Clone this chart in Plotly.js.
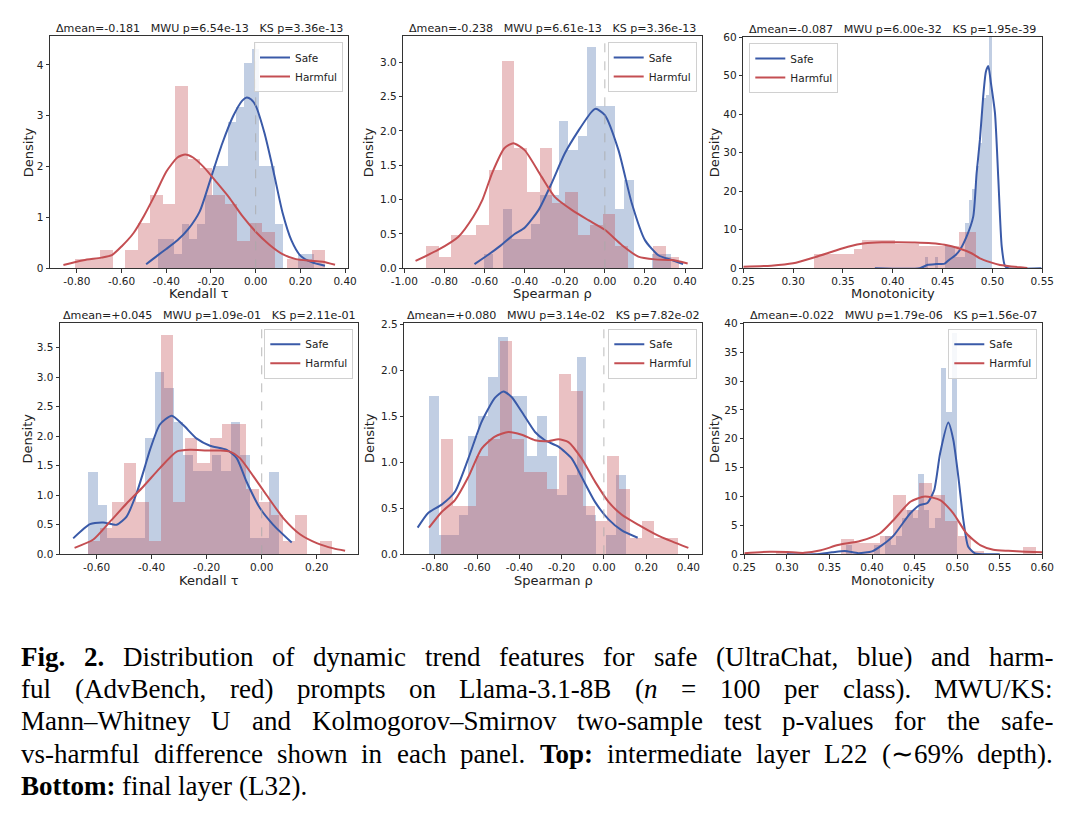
<!DOCTYPE html>
<html><head><meta charset="utf-8">
<script src="https://cdn.plot.ly/plotly-3.0.1.min.js"></script>
<style>body{margin:0;background:#fff}</style>
</head><body><div id="chart" style="width:1072px;height:819px"></div>
<script>
// ================= DATA =================
const seriesNames = ['Safe', 'Harmful'];
const xTitles = ['Kendall τ', 'Spearman ρ', 'Monotonicity', 'Kendall τ', 'Spearman ρ', 'Monotonicity'];
const yTitle = 'Density';
const panelStats = [
  'Δmean=-0.181   MWU p=6.54e-13   KS p=3.36e-13',
  'Δmean=-0.238   MWU p=6.61e-13   KS p=3.36e-13',
  'Δmean=-0.087   MWU p=6.00e-32   KS p=1.95e-39',
  'Δmean=+0.045   MWU p=1.09e-01   KS p=2.11e-01',
  'Δmean=+0.080   MWU p=3.14e-02   KS p=7.82e-02',
  'Δmean=-0.022   MWU p=1.79e-06   KS p=1.56e-07'
];

// ---- Panel 1: L22 Kendall tau ----
const p1SafeBinStart = -0.435, p1SafeBinWidth = 0.0347;
const p1SafeDensity = [0.58,0.58,0.29,0.87,0.58,0.87,1.44,2.02,2.02,2.88,3.17,4.03,4.32,2.02,2.02,0.87,0,0,0.29,0.29];
const p1HarmBinStart = -0.806, p1HarmBinWidth = 0.0557;
const p1HarmDensity = [0.18,0.18,0.36,0,0.36,0.90,1.44,1.26,3.59,2.15,1.97,1.44,1.26,0.54,0.90,0.72,0,0.18,0.18,0.36];
const p1SafeKdeX = [-0.49,-0.44,-0.40,-0.35,-0.30,-0.25,-0.20,-0.15,-0.10,-0.06,-0.04,-0.02,0.0,0.04,0.08,0.12,0.16,0.20,0.25,0.31];
const p1SafeKdeY = [0.08,0.25,0.38,0.55,0.78,1.12,1.78,2.45,3.00,3.30,3.36,3.32,3.20,2.65,1.90,1.10,0.55,0.25,0.12,0.05];
const p1HarmKdeX = [-0.86,-0.77,-0.69,-0.643,-0.60,-0.547,-0.50,-0.45,-0.40,-0.35,-0.315,-0.28,-0.23,-0.18,-0.12,-0.06,0.0,0.06,0.12,0.18,0.24,0.30,0.355];
const p1HarmKdeY = [0.065,0.16,0.21,0.26,0.43,0.69,1.03,1.45,1.90,2.18,2.24,2.18,1.98,1.72,1.40,1.03,0.72,0.47,0.28,0.18,0.15,0.13,0.07];

// ---- Panel 2: L22 Spearman rho ----
const p2SafeBinStart = -0.602, p2SafeBinWidth = 0.0466;
const p2SafeDensity = [0.21,0,0.86,0.43,0.43,0.64,1.07,1.07,2.15,1.72,1.93,3.22,2.36,2.36,0.86,1.29,0,0,0.21,0.21];
const p2HarmBinStart = -0.892, p2HarmBinWidth = 0.063;
const p2HarmDensity = [0.32,0.16,0.48,0.48,0.63,1.43,3.02,1.75,1.11,1.75,0.95,1.11,0.48,0.63,0.79,0.32,0,0,0.32,0.16];
const p2SafeKdeX = [-0.65,-0.58,-0.52,-0.45,-0.40,-0.33,-0.265,-0.20,-0.13,-0.065,-0.045,0.0,0.068,0.134,0.20,0.267,0.334,0.39];
const p2SafeKdeY = [0.06,0.20,0.33,0.50,0.59,0.85,1.24,1.67,2.01,2.28,2.32,2.23,1.72,0.95,0.41,0.19,0.12,0.06];
const p2HarmKdeX = [-0.944,-0.83,-0.73,-0.656,-0.61,-0.56,-0.50,-0.456,-0.40,-0.315,-0.25,-0.165,-0.082,0.0,0.084,0.167,0.25,0.334,0.413];
const p2HarmKdeY = [0.107,0.27,0.46,0.75,1.0,1.40,1.75,1.82,1.72,1.33,1.04,0.85,0.70,0.56,0.34,0.17,0.13,0.12,0.07];

// ---- Panel 3: L22 Monotonicity ----
const p3SafeBinStart = 0.432, p3SafeBinWidth = 0.0034;
const p3SafeDensity = [2.9,0,0,2.9,0,0,5.9,5.9,5.9,2.9,2.9,2.9,11.8,17.6,20.6,26.5,32.4,44.1,45.0,64.7];
const p3HarmBinStart = 0.321, p3HarmBinWidth = 0.0081;
const p3HarmDensity = [3.7,3.7,3.7,3.7,3.7,4.9,7.4,7.4,7.4,7.4,6.2,6.2,6.2,5.8,5.8,5.8,5.8,5.8,9.5,9.5];
const p3SafeKdeX = [0.382,0.427,0.435,0.4433,0.452,0.457,0.4625,0.4673,0.474,0.4807,0.4841,0.4874,0.4907,0.4934,0.4958,0.4985,0.5025,0.5059,0.5093,0.5126,0.516,0.549];
const p3SafeKdeY = [0,0,0.9,1.1,1.2,2.3,3.3,4.75,8.2,13.4,24.7,33.3,44.6,51,52.5,48,40.3,23,5.6,0.6,0,0];
const p3HarmKdeX = [0.25,0.278,0.30,0.322,0.339,0.355,0.372,0.389,0.405,0.422,0.439,0.452,0.466,0.479,0.4874,0.4975,0.5075,0.5276,0.535];
const p3HarmKdeY = [0.43,0.69,1.3,2.9,4.3,5.6,6.5,6.75,6.75,6.7,6.5,6.1,5.2,3.9,2.6,1.6,0.86,0.26,0.1];

// ---- Panel 4: L32 Kendall tau ----
const p4SafeBinStart = -0.63, p4SafeBinWidth = 0.03455;
const p4SafeDensity = [1.40,0.84,0.28,0.28,0.28,0.28,1.97,3.09,2.81,2.25,1.69,1.41,1.41,1.69,1.41,2.25,1.69,0.28,0.28,1.40];
const p4HarmBinStart = -0.633, p4HarmBinWidth = 0.0444;
const p4HarmDensity = [0.22,0.44,0.88,1.54,0.88,0.22,3.72,0.88,1.97,1.54,1.97,2.20,2.20,1.10,0.88,0.66,0.22,0.66,0,0.22];
const p4SafeKdeX = [-0.685,-0.624,-0.576,-0.527,-0.491,-0.455,-0.424,-0.406,-0.37,-0.327,-0.285,-0.236,-0.188,-0.127,-0.091,-0.055,-0.006,0.042,0.109];
const p4SafeKdeY = [0.27,0.51,0.54,0.50,0.64,1.03,1.49,1.77,2.2,2.35,2.19,1.96,1.84,1.77,1.63,1.23,0.78,0.5,0.2];
const p4HarmKdeX = [-0.68,-0.612,-0.552,-0.491,-0.43,-0.37,-0.309,-0.26,-0.20,-0.15,-0.115,-0.079,-0.03,0.018,0.079,0.139,0.20,0.261,0.303];
const p4HarmKdeY = [0.11,0.25,0.55,0.86,1.15,1.46,1.74,1.77,1.76,1.76,1.74,1.63,1.32,1.0,0.61,0.34,0.19,0.1,0.06];

// ---- Panel 5: L32 Spearman rho ----
const p5SafeBinStart = -0.828, p5SafeBinWidth = 0.0466;
const p5SafeDensity = [1.72,0.21,0.21,0.43,1.29,1.50,1.93,2.36,1.72,1.72,1.07,1.50,1.07,0.64,0.86,2.15,0.43,0,0.21,0.86];
const p5HarmBinStart = -0.772, p5HarmBinWidth = 0.0561;
const p5HarmDensity = [1.25,0.53,0.53,1.07,1.25,2.32,1.25,0.89,0.89,0.71,1.96,1.78,0.53,0.36,1.07,0.71,0.18,0.36,0.18,0.18];
const p5SafeKdeX = [-0.882,-0.832,-0.768,-0.705,-0.642,-0.579,-0.516,-0.476,-0.437,-0.389,-0.326,-0.279,-0.215,-0.152,-0.105,-0.042,0.022,0.085,0.16];
const p5SafeKdeY = [0.29,0.45,0.54,0.68,1.04,1.44,1.70,1.77,1.71,1.55,1.33,1.24,1.17,1.04,0.84,0.57,0.38,0.26,0.18];
const p5HarmKdeX = [-0.828,-0.768,-0.705,-0.642,-0.579,-0.516,-0.452,-0.389,-0.326,-0.263,-0.215,-0.168,-0.105,-0.042,0.022,0.085,0.164,0.243,0.322,0.40];
const p5HarmKdeY = [0.29,0.46,0.59,0.84,1.15,1.28,1.33,1.30,1.24,1.23,1.25,1.22,1.04,0.79,0.57,0.43,0.32,0.22,0.14,0.07];

// ---- Panel 6: L32 Monotonicity ----
const p6SafeBinStart = 0.37, p6SafeBinWidth = 0.0065;
const p6SafeDensity = [1.54,0,0,0,0,1.54,0,3.1,1.54,3.1,6.2,7.7,6.2,13.9,7.7,4.6,6.2,32.3,24.7,38.3];
const p6HarmBinStart = 0.287, p6HarmBinWidth = 0.0153;
const p6HarmDensity = [0.65,0,0,0,0,2.6,1.94,1.94,3.2,10.3,7.7,12.3,10.3,5.8,3.2,0.65,0,0,0,1.3];
const p6SafeKdeX = [0.30,0.333,0.353,0.368,0.384,0.40,0.411,0.425,0.445,0.456,0.465,0.473,0.48,0.4896,0.4955,0.5014,0.5073,0.513,0.521,0.537,0.55];
const p6SafeKdeY = [0,0,0.35,0.58,0.2,0.5,1.5,3.2,7.1,8.5,8.9,11.1,17.5,22.8,19.8,13.4,5.9,1.3,0.17,0,0];
const p6HarmKdeX = [0.25,0.28,0.30,0.32,0.34,0.36,0.386,0.409,0.425,0.445,0.462,0.48,0.4955,0.511,0.527,0.5425,0.56,0.58,0.60];
const p6HarmKdeY = [0.2,0.45,0.4,0.25,0.7,1.6,2.3,3.6,5.9,9.1,10.0,9.4,7.1,3.6,1.6,0.8,0.6,0.45,0.35];

// ---- tick values ----
const p1XTicks = [-0.8,-0.6,-0.4,-0.2,0,0.2,0.4];
const p1YTicks = [0,1,2,3,4];
const p2XTicks = [-1.0,-0.8,-0.6,-0.4,-0.2,0,0.2,0.4];
const p2YTicks = [0,0.5,1.0,1.5,2.0,2.5,3.0];
const p3XTicks = [0.25,0.30,0.35,0.40,0.45,0.50,0.55];
const p3YTicks = [0,10,20,30,40,50,60];
const p4XTicks = [-0.6,-0.4,-0.2,0,0.2];
const p4YTicks = [0,0.5,1.0,1.5,2.0,2.5,3.0,3.5];
const p5XTicks = [-0.8,-0.6,-0.4,-0.2,0,0.2,0.4];
const p5YTicks = [0,0.5,1.0,1.5,2.0,2.5];
const p6XTicks = [0.25,0.30,0.35,0.40,0.45,0.50,0.55,0.60];
const p6YTicks = [0,5,10,15,20,25,30,35,40];

// ---- caption ----
const captionLines = [
  ['<b>Fig.</b>','<b>2.</b>','Distribution','of','dynamic','trend','features','for','safe','(UltraChat,','blue)','and','harm-'],
  ['ful','(AdvBench,','red)','prompts','on','Llama-3.1-8B','(<i>n</i>','=','100','per','class).','MWU/KS:'],
  ['Mann–Whitney','U','and','Kolmogorov–Smirnov','two-sample','test','p-values','for','the','safe-'],
  ['vs-harmful','difference','shown','in','each','panel.','<b>Top:</b>','intermediate','layer','L22','(∼69%','depth).'],
  ['<b>Bottom:</b>','final','layer','(L32).']
];

// ================= LAYOUT / STYLE =================
const W = 1072, H = 819;
const FONT = 'DejaVu Sans, sans-serif';
const SAFE_LINE = '#3a5aa8', HARM_LINE = '#c44e52';
const SAFE_BAR = 'rgba(76,114,176,0.35)', HARM_BAR = 'rgba(196,78,82,0.35)';

// px/py: plot-area pixel box; xtY: x-title centre row; ytX: y-title centre column
const panels = [
  {px:[50,348], py:[36,268.3], xtY:293, ytX:28, xr:[-0.92,0.413], yr:[0,4.57], xt:p1XTicks, yt:p1YTicks, yd:0, zero:true, leg:'right',
   sb:[p1SafeBinStart,p1SafeBinWidth,p1SafeDensity], hb:[p1HarmBinStart,p1HarmBinWidth,p1HarmDensity],
   sk:[p1SafeKdeX,p1SafeKdeY], hk:[p1HarmKdeX,p1HarmKdeY]},
  {px:[403.3,701.7], py:[36,268.3], xtY:293, ytX:368, xr:[-1.005,0.483], yr:[0,3.38], xt:p2XTicks, yt:p2YTicks, yd:1, zero:true, leg:'right',
   sb:[p2SafeBinStart,p2SafeBinWidth,p2SafeDensity], hb:[p2HarmBinStart,p2HarmBinWidth,p2HarmDensity],
   sk:[p2SafeKdeX,p2SafeKdeY], hk:[p2HarmKdeX,p2HarmKdeY]},
  {px:[743.3,1042.3], py:[37,268.3], xtY:293, ytX:714.5, xr:[0.25,0.55], yr:[0,60], xt:p3XTicks, yt:p3YTicks, yd:0, zero:false, leg:'left',
   sb:[p3SafeBinStart,p3SafeBinWidth,p3SafeDensity], hb:[p3HarmBinStart,p3HarmBinWidth,p3HarmDensity],
   sk:[p3SafeKdeX,p3SafeKdeY], hk:[p3HarmKdeX,p3HarmKdeY]},
  {px:[60,358.3], py:[322.7,554.3], xtY:580, ytX:27, xr:[-0.733,0.351], yr:[0,3.925], xt:p4XTicks, yt:p4YTicks, yd:1, zero:true, leg:'right',
   sb:[p4SafeBinStart,p4SafeBinWidth,p4SafeDensity], hb:[p4HarmBinStart,p4HarmBinWidth,p4HarmDensity],
   sk:[p4SafeKdeX,p4SafeKdeY], hk:[p4HarmKdeX,p4HarmKdeY]},
  {px:[404.3,702.3], py:[322.7,554.3], xtY:580, ytX:369.5, xr:[-0.945,0.466], yr:[0,2.518], xt:p5XTicks, yt:p5YTicks, yd:1, zero:true, leg:'right',
   sb:[p5SafeBinStart,p5SafeBinWidth,p5SafeDensity], hb:[p5HarmBinStart,p5HarmBinWidth,p5HarmDensity],
   sk:[p5SafeKdeX,p5SafeKdeY], hk:[p5HarmKdeX,p5HarmKdeY]},
  {px:[744.3,1042.3], py:[322.7,554.3], xtY:580, ytX:714.5, xr:[0.25,0.60], yr:[0,40.1], xt:p6XTicks, yt:p6YTicks, yd:0, zero:false, leg:'right',
   sb:[p6SafeBinStart,p6SafeBinWidth,p6SafeDensity], hb:[p6HarmBinStart,p6HarmBinWidth,p6HarmDensity],
   sk:[p6SafeKdeX,p6SafeKdeY], hk:[p6HarmKdeX,p6HarmKdeY]}
];

const traces = [];
const layout = {
  width: W, height: H, margin: {l:0, r:0, t:0, b:0},
  paper_bgcolor: '#ffffff', plot_bgcolor: '#ffffff',
  barmode: 'overlay', bargap: 0, showlegend: true,
  font: {family: FONT, color: '#222', size: 10.5},
  annotations: [], shapes: []
};

function centers(start, width, arr) { return arr.map((_, i) => start + (i + 0.5) * width); }

panels.forEach((p, k) => {
  const n = k + 1, s = n === 1 ? '' : String(n);
  const xa = 'x' + s, ya = 'y' + s, lg = n === 1 ? 'legend' : 'legend' + n;
  traces.push({type:'bar', x: centers(p.sb[0], p.sb[1], p.sb[2]), y: p.sb[2], width: p.sb[1],
    marker:{color:SAFE_BAR, line:{width:0}}, xaxis:xa, yaxis:ya, showlegend:false, hoverinfo:'skip'});
  traces.push({type:'bar', x: centers(p.hb[0], p.hb[1], p.hb[2]), y: p.hb[2], width: p.hb[1],
    marker:{color:HARM_BAR, line:{width:0}}, xaxis:xa, yaxis:ya, showlegend:false, hoverinfo:'skip'});
  traces.push({type:'scatter', mode:'lines', x:p.sk[0], y:p.sk[1], name:seriesNames[0],
    line:{color:SAFE_LINE, width:2, shape:'spline', smoothing:0.6}, xaxis:xa, yaxis:ya, legend:lg, cliponaxis:true});
  traces.push({type:'scatter', mode:'lines', x:p.hk[0], y:p.hk[1], name:seriesNames[1],
    line:{color:HARM_LINE, width:2, shape:'spline', smoothing:0.6}, xaxis:xa, yaxis:ya, legend:lg, cliponaxis:true});

  const axCommon = {showline:true, mirror:true, linecolor:'#333', linewidth:1, ticks:'outside', ticklen:3.5,
    tickcolor:'#333', tickwidth:1, showgrid:false, zeroline:false, tickfont:{family:FONT, size:10.5, color:'#222'},
    automargin:false, fixedrange:true};
  layout['xaxis' + s] = Object.assign({}, axCommon, {
    domain:[p.px[0]/W, p.px[1]/W], range:p.xr, anchor:ya,
    tickmode:'array', tickvals:p.xt, ticktext:p.xt.map(v => v.toFixed(2))});
  layout['yaxis' + s] = Object.assign({}, axCommon, {
    domain:[1 - p.py[1]/H, 1 - p.py[0]/H], range:p.yr, anchor:xa,
    tickmode:'array', tickvals:p.yt, ticktext:p.yt.map(v => v.toFixed(p.yd))});

  // axis titles
  layout.annotations.push({xref:'paper', yref:'paper', x:(p.px[0] + p.px[1])/2/W, y:1 - p.xtY/H,
    xanchor:'center', yanchor:'middle', showarrow:false, text:xTitles[k],
    font:{family:FONT, size:13, color:'#222'}});
  layout.annotations.push({xref:'paper', yref:'paper', x:p.ytX/W, y:1 - (p.py[0] + p.py[1])/2/H,
    xanchor:'center', yanchor:'middle', showarrow:false, text:yTitle, textangle:-90,
    font:{family:FONT, size:13, color:'#222'}});

  layout[lg] = {
    x: p.leg === 'right' ? (p.px[1] - 5)/W : (p.px[0] + 6)/W,
    xanchor: p.leg === 'right' ? 'right' : 'left',
    y: 1 - (p.py[0] + 6)/H, yanchor:'top', xref:'paper', yref:'paper',
    bgcolor:'rgba(255,255,255,0.85)', bordercolor:'#d0d0d0', borderwidth:1,
    font:{family:FONT, size:10.5, color:'#222'}, tracegroupgap:0, itemwidth:30, traceorder:'normal'
  };

  layout.annotations.push({xref:'paper', yref:'paper', x:(p.px[0] + p.px[1])/2/W, y:1 - (p.py[0] - 7.5)/H,
    xanchor:'center', yanchor:'middle', showarrow:false,
    text: panelStats[k].replace(/ /g, '\u00a0'), font:{family:FONT, size:11.1, color:'#222'}});

  if (p.zero) {
    layout.shapes.push({type:'line', xref:xa, yref:ya + ' domain', x0:0, x1:0, y0:0, y1:1,
      line:{color:'#a8a8a8', width:0.8, dash:'dash'}, layer:'above'});
  }
});

// ---- caption: justified lines, words measured with canvas ----
const CAP_FONT = 'Liberation Serif', CAP_SIZE = 27;
const capLeft = 20, capRight = 1052, capY = [657, 689, 721, 754, 786];
const cv = document.createElement('canvas').getContext('2d');
function segs(word) {
  const out = []; let b = false, it = false;
  word.split(/(<\/?[bi]>)/).forEach(t => {
    if (t === '<b>') b = true; else if (t === '</b>') b = false;
    else if (t === '<i>') it = true; else if (t === '</i>') it = false;
    else if (t) out.push({t, b, it});
  });
  return out;
}
function wWidth(word) {
  return segs(word).reduce((acc, g) => {
    cv.font = (g.it ? 'italic ' : '') + (g.b ? 'bold ' : '') + CAP_SIZE + 'px "' + CAP_FONT + '"';
    return acc + cv.measureText(g.t).width;
  }, 0);
}
cv.font = CAP_SIZE + 'px "' + CAP_FONT + '"';
const spaceW = cv.measureText(' ').width;
captionLines.forEach((words, li) => {
  const widths = words.map(wWidth);
  const total = widths.reduce((a, b) => a + b, 0);
  const justify = li < captionLines.length - 1;
  const gap = justify ? (capRight - capLeft - total) / (words.length - 1) : spaceW;
  let x = capLeft;
  words.forEach((w, wi) => {
    layout.annotations.push({xref:'paper', yref:'paper', x:x/W, y:1 - capY[li]/H, xanchor:'left', yanchor:'middle',
      showarrow:false, borderpad:0, text:w, font:{family:CAP_FONT, size:CAP_SIZE, color:'#000'}});
    x += widths[wi] + gap;
  });
});

Plotly.newPlot('chart', traces, layout, {staticPlot:true, displayModeBar:false});
</script></body></html>
